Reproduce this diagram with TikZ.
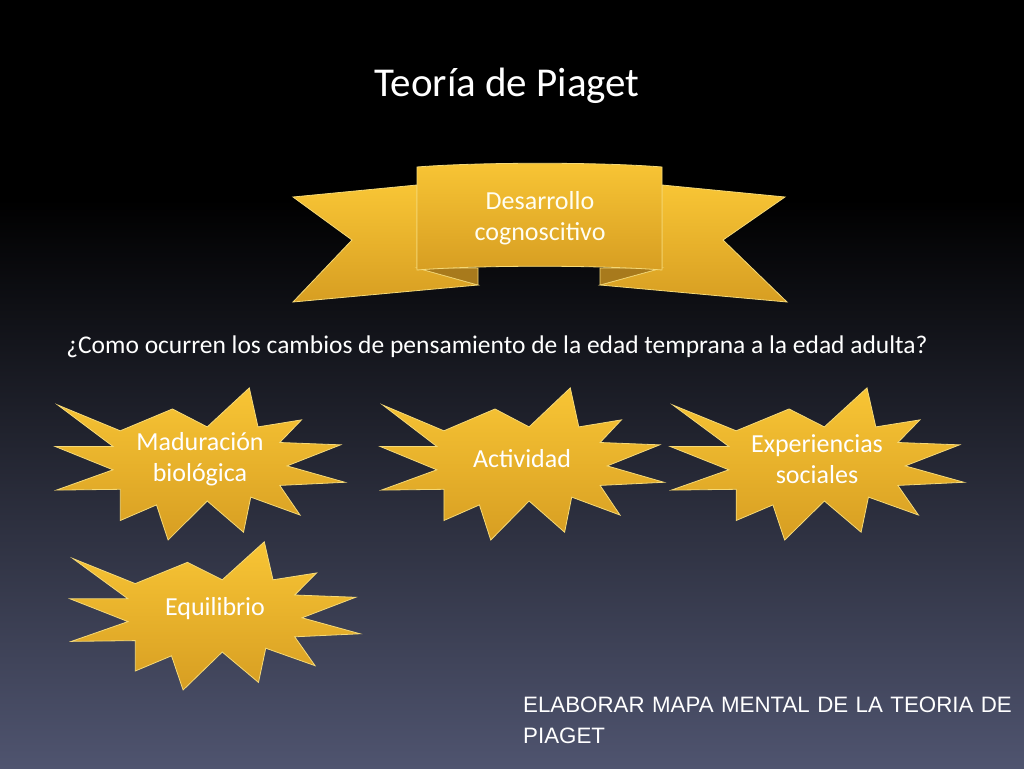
\documentclass[tikz,border=0pt]{standalone}
\usepackage{fontspec}
\setmainfont{Carlito}
\newfontfamily\arialf{Liberation Sans}
\usetikzlibrary{shadings}
\definecolor{bgbot}{HTML}{4F546F}
\definecolor{bgmid}{HTML}{272842}
\definecolor{goldtop}{HTML}{F8C535}
\definecolor{goldbot}{HTML}{D79E22}
\definecolor{golddark}{HTML}{A87A1C}
\definecolor{goldedge}{HTML}{F5D977}
\tikzset{
  gold/.style={top color=goldtop, bottom color=goldbot, draw=goldedge, line width=0.8pt},
  fold/.style={fill=golddark, draw=goldedge, line width=0.6pt},
  lbl/.style={text=white, font=\fontsize{26}{31}\selectfont, align=center},
}
\newcommand{\mystar}[7]{%
  \begin{scope}[shift={(#1,#2)}, xscale=#3, yscale=#4]
  \path[gold] (-0.98,-0.73) -- (-0.55,-0.4) -- (-0.19,-0.68) -- (0.05,-0.45) -- (0.34,-0.95) -- (0.4,-0.45) -- (0.70,-0.54) -- (0.55,-0.25) -- (0.97,-0.22) -- (0.6,0.05) -- (1.0,0.26) -- (0.55,0.3) -- (0.69,0.68) -- (0.35,0.45) -- (0.3,0.9) -- (0.05,0.5) -- (-0.22,1.0) -- (-0.3,0.55) -- (-0.55,0.75) -- (-0.55,0.35) -- (-0.99,0.36) -- (-0.6,0.1) -- (-1.0,-0.2) -- (-0.6,-0.2) -- cycle;
  \end{scope}
  \node[lbl] (#5) at (#1,#2) [yshift=#6] {#7};}
\begin{document}
\begin{tikzpicture}[x=1pt,y=-1pt]
\useasboundingbox (0,0) rectangle (1024,768);
\fill[black] (0,0) rectangle (1024,200);
\shade[top color=black, middle color=bgmid, bottom color=bgbot] (0,199) rectangle (1024,768);
\node[text=white, font=\fontsize{41}{46}\selectfont] (title) at (507,86) {Teoría de Piaget};
% banner
\path[gold] (293,197) -- (417,185) -- (417,268) -- (478,285) -- (293,302) -- (352,240) -- cycle;
\path[fold] (417,268) -- (478,268) -- (478,285) -- cycle;
\path[gold] (785,197) -- (662,185) -- (662,268) -- (600,285) -- (787,302) -- (723,240) -- cycle;
\path[fold] (662,268) -- (600,268) -- (600,285) -- cycle;
\path[gold] (417,167) .. controls (480,162) and (600,162) .. (662,167) -- (662,270) .. controls (600,265) and (480,265) .. (417,270) -- cycle;
\node[lbl, text=white!95!yellow] (des) at (540,218) {Desarrollo\\cognoscitivo};
\node[text=white, font=\fontsize{25.5}{30}\selectfont] (q) at (497,347) {¿Como ocurren los cambios de pensamiento de la edad temprana a la edad adulta?};
\mystar{200}{462}{145}{78}{s1}{3pt}{Maduración\\biológica}
\mystar{522}{462}{142}{78}{s2}{3pt}{Actividad}
\mystar{817}{462}{147}{78}{s3}{3pt}{Experiencias\\sociales}
\mystar{215}{614}{145}{76}{s4}{5pt}{Equilibrio}
\node[text=white, font=\arialf\fontsize{22.3}{31}\selectfont, align=left, anchor=north west, text width=505, inner sep=0pt] (el) at (523,697) {ELABORAR MAPA MENTAL DE LA TEORIA DE PIAGET};
\end{tikzpicture}
\end{document}
